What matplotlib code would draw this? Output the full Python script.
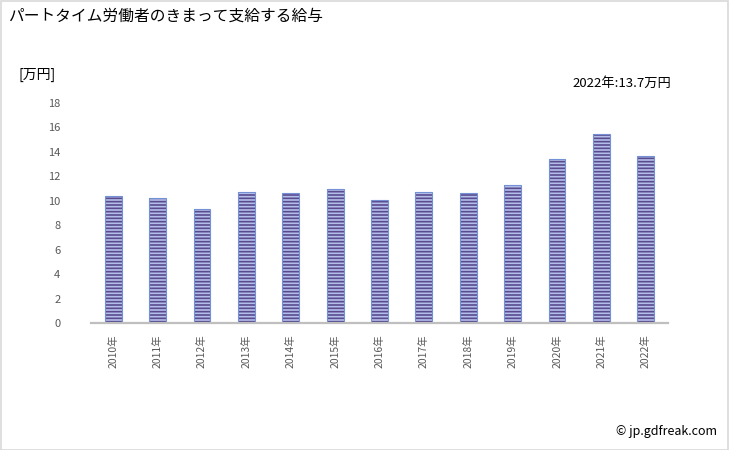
import matplotlib
matplotlib.use("Agg")
import matplotlib.pyplot as plt
from matplotlib.patches import Rectangle

plt.rcParams['font.family'] = ['Noto Sans CJK JP', 'DejaVu Sans']
plt.rcParams['hatch.linewidth'] = 1.2

years = ['2010年', '2011年', '2012年', '2013年', '2014年', '2015年', '2016年',
         '2017年', '2018年', '2019年', '2020年', '2021年', '2022年']
values = [10.4, 10.2, 9.3, 10.7, 10.6, 11.0, 10.1, 10.7, 10.6, 11.3, 13.4, 15.5, 13.7]
yticks = [0, 2, 4, 6, 8, 10, 12, 14, 16, 18]

title = 'パートタイム労働者のきまって支給する給与'
unit = '[万円]'
note = '2022年:13.7万円'
credit = '© jp.gdfreak.com'

fig = plt.figure(figsize=(7.29, 4.5), dpi=100)
ax = fig.add_axes([91/729, 1 - 323/450, (668-91)/729, (323-103)/450])

x = list(range(len(years)))
ax.bar(x, values, width=0.38, color='#b3bfea', edgecolor='#5a4b8e',
       linewidth=0, hatch='-----')
ax.bar(x, values, width=0.38, fill=False, edgecolor='#7391d4', linewidth=0.8)

ax.set_xlim(-0.5, len(years) - 0.5)
ax.set_ylim(0, 18)
ax.set_yticks(yticks)
ax.set_yticklabels([str(t) for t in yticks], fontsize=8, color='#595959')
ax.set_xticks(x)
ax.set_xticklabels(years, rotation=90, fontsize=7.5, color='#595959')
ax.tick_params(axis='both', length=0)
ax.tick_params(axis='y', pad=22)
ax.tick_params(axis='x', pad=8)
for s in ['top', 'right', 'left']:
    ax.spines[s].set_visible(False)
ax.spines['bottom'].set_color('#bfbfbf')
ax.spines['bottom'].set_linewidth(1.6)

fig.text(8/729, 1 - 16/450, title, fontsize=11.3, va='center', ha='left', color='#000000')
fig.text(18/729, 1 - 75/450, unit, fontsize=10, va='center', ha='left', color='#000000')
fig.text(671/729, 1 - 83/450, note, fontsize=9.5, va='center', ha='right', color='#000000')
fig.text(717/729, 1 - 432/450, credit, fontsize=9, va='center', ha='right', color='#000000')

fig.patches.append(Rectangle((0.5/729, 0.5/450), 727.5/729, 448.5/450, transform=fig.transFigure,
                             fill=False, edgecolor='#d9d9d9', linewidth=1.2))

fig.savefig('out.png', dpi=100)
